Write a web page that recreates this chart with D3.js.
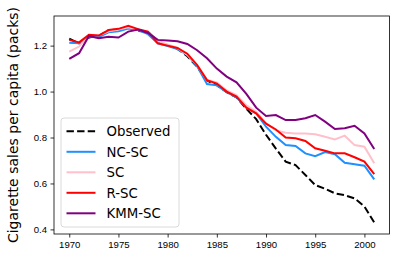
<!DOCTYPE html>
<html>
<head>
<meta charset="utf-8">
<script src="https://cdn.jsdelivr.net/npm/d3@7"></script>
<style>
body { margin: 0; background: #fff; }
svg { font-family: "DejaVu Sans", sans-serif; }
</style>
</head>
<body>
<svg id="chart"></svg>
<script>
// years on the x axis
var years = d3.range(1970, 2002);

var observed = [1.230, 1.210, 1.235, 1.244, 1.267, 1.271, 1.280, 1.264, 1.261, 1.219, 1.202, 1.186, 1.154, 1.108, 1.048, 1.028,
    0.997, 0.975, 0.925, 0.880, 0.812, 0.752, 0.695, 0.680, 0.637, 0.593, 0.577, 0.557, 0.549, 0.535, 0.500, 0.430];
var ncsc = [1.213, 1.210, 1.240, 1.238, 1.258, 1.263, 1.274, 1.268, 1.250, 1.210, 1.198, 1.185, 1.160, 1.110, 1.033, 1.027,
    0.997, 0.975, 0.930, 0.905, 0.847, 0.803, 0.767, 0.763, 0.731, 0.719, 0.737, 0.727, 0.690, 0.684, 0.677, 0.618];
var sc = [1.174, 1.196, 1.244, 1.245, 1.262, 1.270, 1.280, 1.270, 1.260, 1.220, 1.205, 1.190, 1.160, 1.115, 1.050, 1.040,
    1.005, 0.985, 0.940, 0.912, 0.862, 0.831, 0.821, 0.818, 0.818, 0.814, 0.803, 0.792, 0.808, 0.767, 0.760, 0.688];
var rsc = [1.225, 1.214, 1.247, 1.244, 1.268, 1.273, 1.286, 1.272, 1.261, 1.210, 1.200, 1.190, 1.165, 1.115, 1.050, 1.035,
    1.000, 0.978, 0.930, 0.905, 0.860, 0.835, 0.800, 0.797, 0.785, 0.753, 0.742, 0.731, 0.731, 0.714, 0.695, 0.641];
var kmmsc = [1.142, 1.167, 1.242, 1.232, 1.239, 1.235, 1.261, 1.270, 1.255, 1.225, 1.222, 1.219, 1.207, 1.180, 1.145, 1.100,
    1.065, 1.040, 0.990, 0.930, 0.894, 0.898, 0.876, 0.876, 0.884, 0.898, 0.869, 0.837, 0.840, 0.851, 0.818, 0.750];

var xTicks = [1970, 1975, 1980, 1985, 1990, 1995, 2000];
var yTicks = [0.4, 0.6, 0.8, 1.0, 1.2];

var series = [
    {name: "Observed", values: observed, color: "#000000", dash: "7.4,3.2"},
    {name: "NC-SC", values: ncsc, color: "#1e90ff", dash: null},
    {name: "SC", values: sc, color: "#ffc0cb", dash: null},
    {name: "R-SC", values: rsc, color: "#ff0000", dash: null},
    {name: "KMM-SC", values: kmmsc, color: "#800080", dash: null}
];

var width = 396, height = 258;
var plotLeft = 54, plotRight = 389.5, plotTop = 16, plotBottom = 234;

var svg = d3.select("#chart")
    .attr("width", width)
    .attr("height", height);

var x = d3.scaleLinear().domain([1968.45, 2002.55]).range([plotLeft, plotRight]);
var y = d3.scaleLinear().domain([0.38, 1.329]).range([plotBottom, plotTop]);

// lines
var line = d3.line()
    .x(function(d) { return x(d[0]); })
    .y(function(d) { return y(d[1]); });

series.forEach(function(s) {
    svg.append("path")
        .datum(years.map(function(yr, i) { return [yr, s.values[i]]; }))
        .attr("fill", "none")
        .attr("stroke", s.color)
        .attr("stroke-width", 2)
        .attr("stroke-dasharray", s.dash)
        .attr("d", line);
});

// axes
var xAxis = svg.append("g")
    .attr("transform", "translate(0," + plotBottom + ")")
    .call(d3.axisBottom(x).tickValues(xTicks).tickFormat(d3.format("d")).tickSize(3.5).tickPadding(3.5));
var yAxis = svg.append("g")
    .attr("transform", "translate(" + plotLeft + ",0)")
    .call(d3.axisLeft(y).tickValues(yTicks).tickFormat(d3.format(".1f")).tickSize(3.5).tickPadding(3.5));

[xAxis, yAxis].forEach(function(a) {
    a.select(".domain").remove();
    a.selectAll("text").attr("font-size", 9.6).attr("fill", "#000");
    a.selectAll("line").attr("stroke", "#000").attr("stroke-width", 0.8);
});

// frame
svg.append("rect")
    .attr("x", plotLeft).attr("y", plotTop)
    .attr("width", plotRight - plotLeft).attr("height", plotBottom - plotTop)
    .attr("fill", "none")
    .attr("stroke", "#000")
    .attr("stroke-width", 0.8);

svg.append("text")
    .attr("transform", "translate(18," + ((plotTop + plotBottom) / 2) + ") rotate(-90)")
    .attr("text-anchor", "middle")
    .attr("font-size", 14)
    .text("Cigarette sales per capita (packs)");

// legend
var legend = svg.append("g");
legend.append("rect")
    .attr("x", 61).attr("y", 118)
    .attr("width", 118).attr("height", 109)
    .attr("rx", 3)
    .attr("fill", "#fff").attr("fill-opacity", 0.8)
    .attr("stroke", "#d0d0d0")
    .attr("stroke-width", 0.8);

var item = legend.selectAll(".item")
    .data(series)
    .enter().append("g")
    .attr("class", "item")
    .attr("transform", function(d, i) { return "translate(0," + (131.3 + i * 20.5) + ")"; });

item.append("line")
    .attr("x1", 66.5).attr("x2", 95.5)
    .attr("stroke", function(d) { return d.color; })
    .attr("stroke-width", 2)
    .attr("stroke-dasharray", function(d) { return d.dash; });

item.append("text")
    .attr("x", 106.5)
    .attr("dy", "0.36em")
    .attr("font-size", 13.3)
    .text(function(d) { return d.name; });
</script>
</body>
</html>
